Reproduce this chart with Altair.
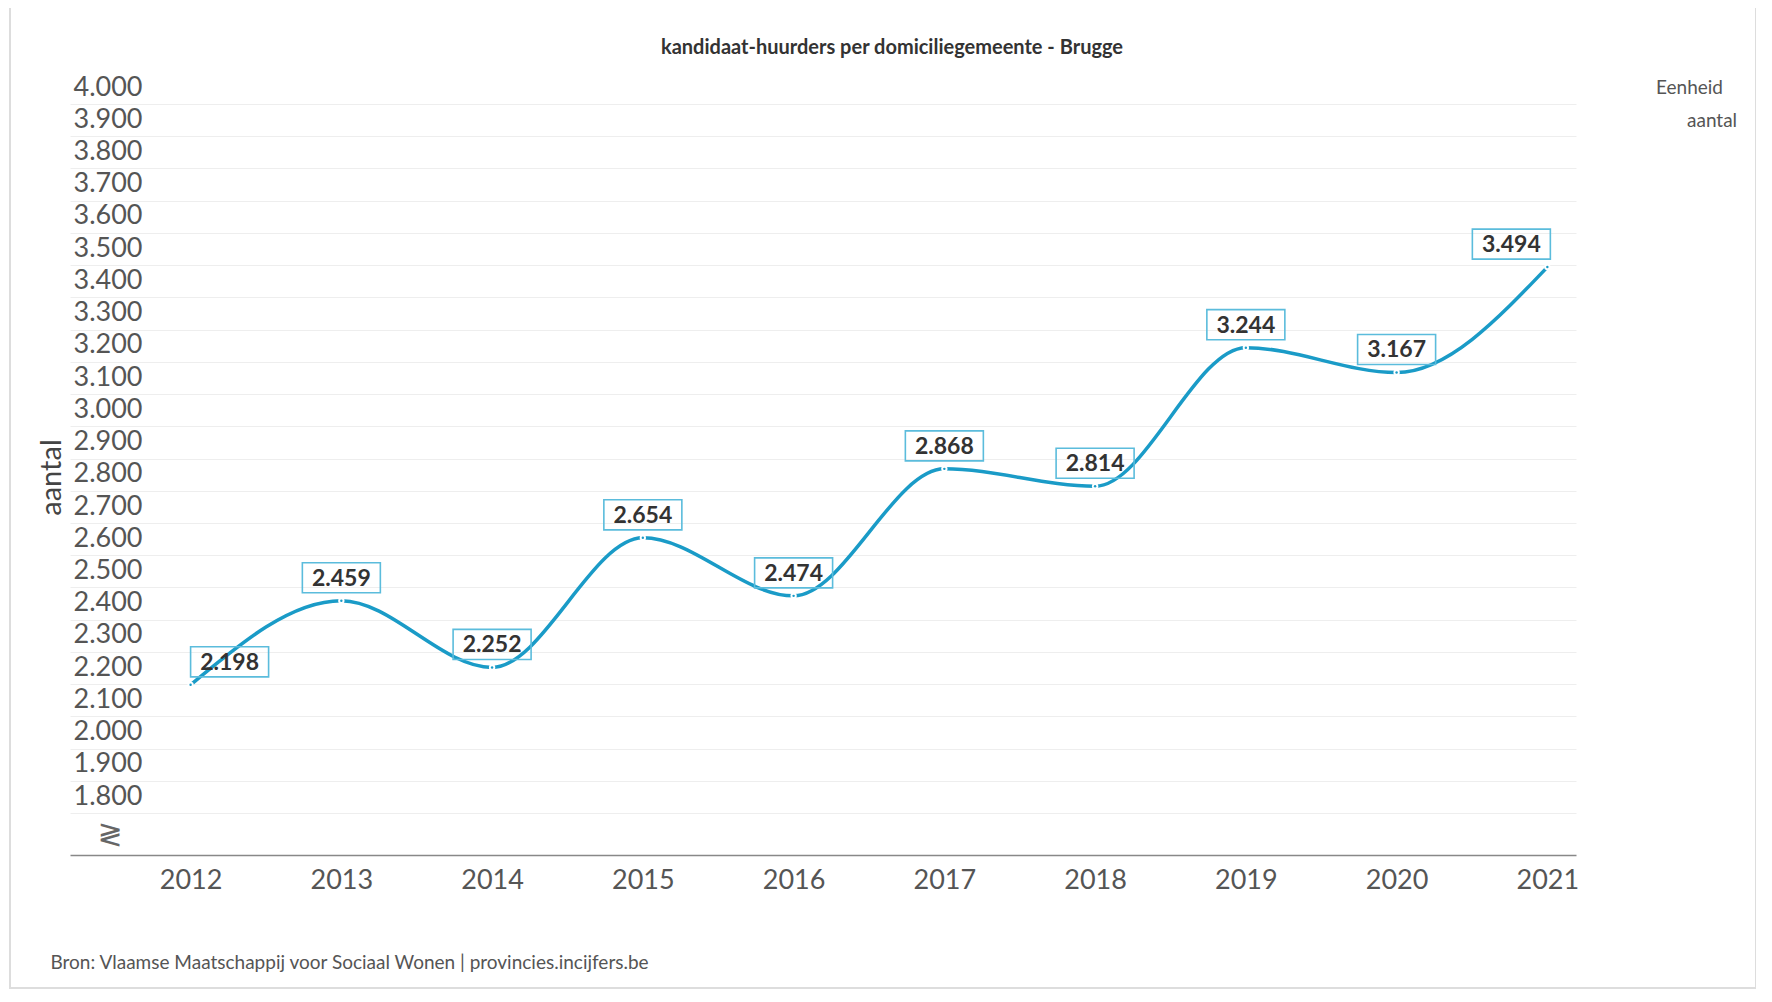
import altair as alt
import pandas as pd

years = [2012, 2013, 2014, 2015, 2016, 2017, 2018, 2019, 2020, 2021]
values = [2198, 2459, 2252, 2654, 2474, 2868, 2814, 3244, 3167, 3494]
unit = "aantal"
y_ticks = list(range(1800, 4001, 100))
title_text = "kandidaat-huurders per domiciliegemeente - Brugge"
source_text = "Bron: Vlaamse Maatschappij voor Sociaal Wonen | provincies.incijfers.be"
break_symbol = "≷"

df = pd.DataFrame({"year": years, "value": values, "Eenheid": [unit] * len(years)})
one = pd.DataFrame({"k": [0]})

BLUE = "#1a9bc7"
BOX = "#5bbcdc"
FONT = "Lato"

x_enc = alt.X(
    "year:Q",
    scale=alt.Scale(domain=[2011.2, 2021.19], nice=False, zero=False),
    axis=alt.Axis(
        values=years, format="d", grid=False, ticks=False,
        labelFontSize=27, labelColor="#555555", labelFont=FONT, labelPadding=12,
        labelFlush=False,
        domainColor="#888888", domainWidth=1.5,
        title=source_text, titleFont=FONT, titleFontSize=19, titleFontWeight="normal",
        titleColor="#555555", titleX=-20, titleY=113, titleAlign="left",
        titleAnchor="start", titleBaseline="alphabetic",
    ),
)
y_enc = alt.Y(
    "value:Q",
    scale=alt.Scale(domain=[1670, 4000], nice=False, zero=False),
    axis=alt.Axis(
        values=y_ticks, labelExpr="replace(format(datum.value, ','), ',', '.')",
        grid=True, gridColor="#eeeeee", gridWidth=1, ticks=False, tickSize=0, domain=False,
        labelAlign="left", labelPadding=-3, labelBaseline="alphabetic", labelOffset=-9,
        labelFontSize=27, labelColor="#555555", labelFont=FONT,
        labelFlush=False, labelBound=False, labelOverlap=False,
        title="aantal", titleFont=FONT, titleFontSize=29, titleFontWeight="normal",
        titleColor="#444444", titleAngle=270, titleX=-19, titleY=373,
        titleAlign="center", titleBaseline="middle",
    ),
)

frame = alt.Chart(one).mark_rect(
    filled=False, stroke="#dddddd", strokeWidth=2
).encode(
    x=alt.value(-60), x2=alt.value(1686), y=alt.value(-98), y2=alt.value(884)
)

title_mark = alt.Chart(one).mark_text(
    text=title_text, font=FONT, fontSize=20, fontWeight="bold", color="#333333",
    align="center", baseline="middle",
).encode(x=alt.value(822), y=alt.value(-56))

brk = alt.Chart(one).mark_text(
    text=break_symbol, font="DejaVu Sans", fontSize=30, color="#666666",
    align="center", baseline="middle",
).encode(x=alt.value(40), y=alt.value(731))

base = alt.Chart(df).encode(x=x_enc, y=y_enc)

line = base.mark_line(interpolate="monotone", strokeWidth=3.5).encode(
    color=alt.Color(
        "Eenheid:N", scale=alt.Scale(range=[BLUE]),
        legend=alt.Legend(
            orient="none", legendX=1586, legendY=-25, title="Eenheid",
            titleFont=FONT, titleFontSize=19, titleFontWeight="normal", titleColor="#555555",
            labelFont=FONT, labelFontSize=19, labelColor="#555555",
            symbolOpacity=0, symbolStrokeWidth=0, symbolSize=100, labelOffset=12,
            titlePadding=13,
        ),
    )
)

pt_white = base.mark_point(filled=True, color="white", size=40, opacity=1, shape="circle")
pt_blue = base.mark_point(filled=True, color=BLUE, size=6, opacity=1, shape="circle")

box_shape = "M-1,-0.385L1,-0.385L1,0.385L-1,0.385Z"


def labels(filter_expr, dx):
    sub = base.transform_filter(filter_expr).transform_calculate(
        lbl="replace(format(datum.value, ','), ',', '.')"
    )
    box = sub.mark_point(
        shape=box_shape, size=6084, filled=False, stroke=BOX, strokeWidth=1.6,
        opacity=1, xOffset=dx, yOffset=-23,
    )
    txt = sub.mark_text(
        font=FONT, fontSize=23, fontWeight="bold", color="#333333",
        baseline="middle", align="center", xOffset=dx, yOffset=-22,
    ).encode(text="lbl:N")
    return [box, txt]


layers = [frame, title_mark, brk, line, pt_white, pt_blue]
layers += labels("datum.year > 2012 && datum.year < 2021", 0)
layers += labels("datum.year == 2012", 39)
layers += labels("datum.year == 2021", -36)

chart = alt.layer(*layers).properties(
    width=1506,
    height=751,
    autosize=alt.AutoSizeParams(type="none"),
    padding={"left": 62, "top": 96, "right": 180, "bottom": 135},
).configure_view(stroke=None)

chart.save("out.html", embed_options={"renderer": "svg", "actions": False})
